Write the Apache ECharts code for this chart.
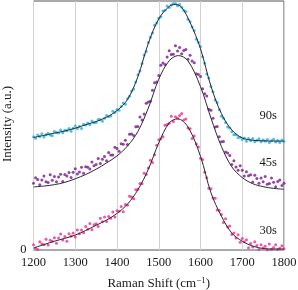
<!DOCTYPE html>
<html><head><meta charset="utf-8">
<script src="https://cdn.jsdelivr.net/npm/echarts@6/dist/echarts.min.js"></script>
<style>html,body{margin:0;padding:0;background:#fff}#c{width:298px;height:290px}</style>
</head><body><div id="c"></div>
<script>
// Raman shift sampling grid (cm^-1), 1200..1800 every 5
const shift = Array.from({length:121},(_, i)=>1200+5*i);
const xTicks = [1200,1300,1400,1500,1600,1700,1800];
const seriesNames = ['90s','45s','30s'];

// measured points (a.u.)
const s90 = [113.8,112.2,115.4,113.9,116.7,113.4,115.8,117.1,115.5,114.7,118.9,117.9,117.5,120.4,117.6,120.2,119.8,121.9,119.3,122.2,
124.5,122.0,124.1,122.1,126.3,125.5,127.4,125.7,129.6,127.8,127.9,131.0,130.9,129.3,132.3,135.1,133.7,134.5,139.2,138.0,
141.0,140.2,144.2,147.5,146.4,151.9,154.4,159.7,161.6,168.6,175.9,179.6,187.2,195.9,199.3,208.3,213.7,217.8,225.6,227.9,
232.8,234.3,240.0,240.6,245.0,243.5,246.1,247.5,247.4,245.2,246.6,243.7,240.4,239.4,231.6,229.2,223.8,220.3,211.7,208.5,
204.2,194.0,187.4,176.7,172.7,164.2,158.9,150.5,148.2,140.8,134.4,132.4,128.1,123.6,122.6,118.7,115.7,115.8,112.9,113.1,
111.0,112.4,109.3,112.0,109.7,111.9,108.7,110.3,111.8,108.6,110.5,109.1,111.0,107.9,109.6,111.2,108.5,110.0,107.9,110.4,109.0];
const s45 = [66.9,72.6,70.9,65.6,70.2,74.2,68.6,67.7,75.5,70.1,73.8,68.4,73.2,76.0,68.9,75.9,74.3,77.8,72.9,78.0,
81.7,76.3,78.4,83.1,77.1,83.6,83.2,81.2,88.4,84.7,85.8,91.8,86.9,91.2,93.9,89.7,97.8,95.3,95.5,103.2,
101.8,99.2,106.8,106.1,110.2,105.9,116.1,116.4,115.0,123.7,123.9,133.6,130.6,136.5,147.3,148.7,149.3,160.3,167.9,168.6,
175.1,185.6,187.8,186.3,193.7,200.0,196.2,196.6,205.1,199.9,203.2,197.0,200.4,201.3,191.6,195.5,189.8,188.1,176.9,176.3,
174.2,162.0,156.8,154.6,141.3,140.3,132.4,123.4,124.0,113.7,108.7,109.0,98.4,97.4,94.8,85.8,89.6,83.3,80.0,84.5,
80.0,74.2,78.6,74.5,75.5,68.2,75.1,71.9,67.0,72.2,68.5,73.8,65.9,66.7,72.2,68.1,63.5,68.8,70.4,64.7,67.0];
const s30 = [5.2,1.8,0.5,8.2,6.1,5.2,10.9,5.0,9.9,8.8,12.4,6.8,12.0,16.0,10.1,13.5,8.7,16.3,13.9,17.0,
13.0,20.2,16.3,20.2,17.2,23.6,20.8,26.7,20.3,25.3,26.4,23.5,32.0,28.3,33.1,28.7,33.7,31.9,38.1,33.2,
39.5,38.8,43.6,38.4,45.8,45.0,53.9,53.2,51.4,60.6,61.1,66.7,66.5,77.1,75.8,82.4,90.2,87.8,95.7,105.2,
110.7,111.7,113.8,125.2,125.9,127.3,134.3,129.0,133.9,132.3,135.1,137.0,130.5,131.6,122.5,121.8,111.9,114.4,106.4,103.3,
92.0,90.9,78.1,72.6,62.1,61.5,52.2,52.0,40.1,39.6,35.6,27.6,31.5,23.2,24.0,15.6,17.1,12.1,15.4,7.8,
11.6,8.2,10.2,2.2,6.6,2.9,8.4,4.4,0.4,5.3,2.1,3.7,0.2,5.9,0.8,2.4,5.2,0.5,1.8,4.2,1.3];

// fitted curves
const fit90x = [1200,1225,1250,1275,1300,1325,1350,1375,1400,1425,1450,1475,1500,1525,1540,1555,1575,1600,1625,1650,1675,1700,1725,1750,1775,1800];
const fit90y = [113.0,115.1,117.3,119.5,122.3,125.8,129.0,133.3,140.0,151.0,174.0,207.5,232.0,244.5,246.5,243.5,228.5,202.0,164.5,137.0,120.5,112.5,110.2,109.6,109.4,109.3];
const fit45x = [1200,1225,1250,1275,1300,1325,1350,1375,1400,1425,1450,1475,1500,1525,1547,1570,1600,1625,1650,1675,1700,1725,1750,1775,1800];
const fit45y = [63.3,64.2,65.6,67.9,71.5,75.8,81.1,87.4,94.5,104.3,119.0,142.5,171.5,190.0,195.2,190.0,164.0,132.5,104.0,83.5,72.7,66.6,63.6,61.9,61.0];
const fit30x = [1200,1225,1250,1275,1300,1325,1350,1375,1400,1425,1450,1475,1500,1525,1545,1570,1600,1625,1650,1675,1700,1725,1750,1775,1800];
const fit30y = [2.0,5.4,8.8,11.7,15.0,19.6,24.8,30.1,36.7,46.0,60.5,81.0,107.5,127.5,131.7,123.5,94.0,57.5,34.0,17.0,8.8,3.9,1.5,1.0,1.0];
const labelY = [135, 88, 19]; // vertical placement of series labels (a.u.)

const pair = (xs, ys) => xs.map((x, i) => [x, ys[i]]);
const FONT = 'Liberation Serif';
const colors = ['#1cb0ea', '#7c1490', '#ee2c92'];
const sets = [s90, s45, s30];
const fits = [[fit90x, fit90y], [fit45x, fit45y], [fit30x, fit30y]];

const series = [];
sets.forEach((s, k) => {
  series.push({
    type: 'scatter', data: pair(shift, s), symbolSize: 3,
    itemStyle: { color: colors[k] }, silent: true, z: 2
  });
});
fits.forEach((f, k) => {
  series.push({
    type: 'line', data: pair(f[0], f[1]), smooth: 0.35, showSymbol: false,
    lineStyle: { color: '#2a2a2a', width: 1 }, silent: true, z: 3
  });
});

const chart = echarts.init(document.getElementById('c'), null, { renderer: 'canvas' });
chart.setOption({
  animation: false,
  textStyle: { fontFamily: FONT },
  grid: { left: 33.5, right: 14, top: 1, bottom: 40, containLabel: false, outerBoundsMode: 'none',
    show: true, borderColor: '#555', borderWidth: 1, backgroundColor: 'transparent' },
  xAxis: {
    type: 'value', min: 1200, max: 1800, interval: 100,
    axisLine: { show: false }, axisTick: { show: false },
    splitLine: { show: true, lineStyle: { color: '#d2d2d2', width: 1 } },
    axisLabel: { color: '#1a1a1a', fontFamily: FONT, fontSize: 12.5, margin: 6,
      formatter: v => xTicks.includes(v) ? String(v) : '' },
    name: 'Raman Shift (cm{sup|−1})', nameLocation: 'middle', nameGap: 26,
    nameTextStyle: { color: '#1a1a1a', fontFamily: FONT, fontSize: 13,
      rich: { sup: { fontSize: 9, verticalAlign: 'top', padding: [0, 0, 7, 0], fontFamily: FONT, color: '#1a1a1a' } } }
  },
  yAxis: {
    type: 'value', min: 0, max: 250, interval: 250,
    axisLine: { show: false }, axisTick: { show: false }, splitLine: { show: false },
    axisLabel: { color: '#1a1a1a', fontFamily: FONT, fontSize: 12.5, margin: 7,
      formatter: v => v === 0 ? '0' : '' }
  },
  graphic: [{
    type: 'text', x: 8, y: 124, rotation: Math.PI / 2, silent: true,
    style: { text: 'Intensity (a.u.)', fill: '#1a1a1a', font: '13px "Liberation Serif"', align: 'center', verticalAlign: 'middle' }
  }],
  series: series.concat([{
    type: 'scatter', data: [], silent: true,
    markPoint: {
      symbolSize: 0, silent: true,
      label: { show: true, color: '#1a1a1a', fontFamily: FONT, fontSize: 12.5, formatter: p => p.name },
      data: seriesNames.map((n, k) => ({ name: n, coord: [1762, labelY[k]] }))
    }
  }])
});
</script></body></html>
